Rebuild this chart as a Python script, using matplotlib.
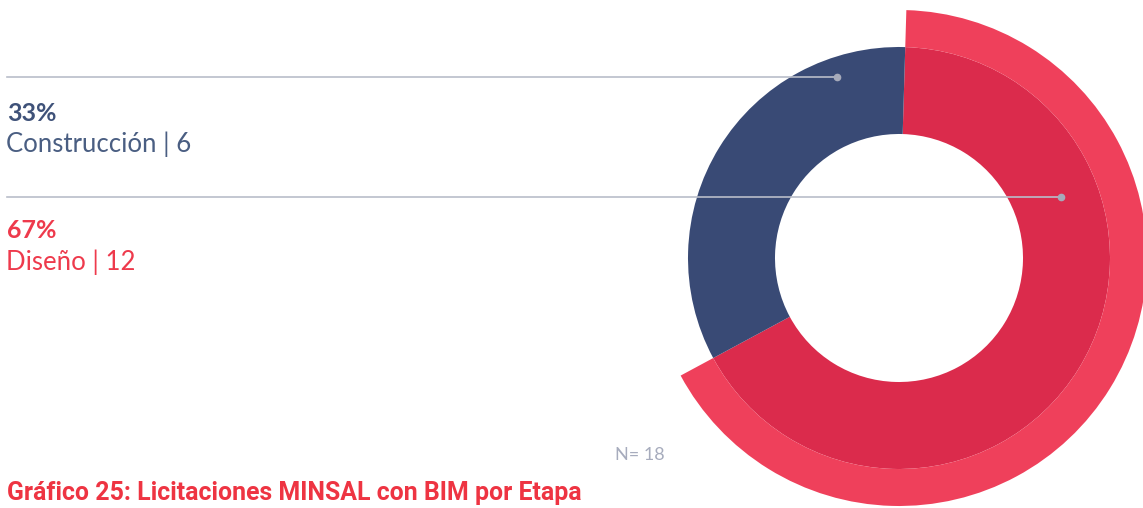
import matplotlib
matplotlib.use("Agg")
import matplotlib.pyplot as plt

# ---- data ----
categories = ["Diseño", "Construcción"]
counts = [12, 6]
percent_labels = ["67%", "33%"]
total_label = "N= 18"
title = "Gráfico 25: Licitaciones MINSAL con BIM por Etapa"

W, H = 1143, 508
DPI = 100
fig = plt.figure(figsize=(W / DPI, H / DPI), dpi=DPI)
fig.patch.set_facecolor("white")

# background axes in pixel coordinates (y downward)
bg = fig.add_axes([0, 0, 1, 1])
bg.set_xlim(0, W)
bg.set_ylim(H, 0)
bg.axis("off")

navy = "#394A75"
red_in = "#DB2B4C"
red_out = "#EF405B"
line_c = "#B9BDC9"
navy_txt = "#3F5279"
red_txt = "#EE3A4C"

# pie axes: centre (899, 258), outer radius 248 px
cx, cy, R = 899, 258, 248
pax = fig.add_axes([(cx - R) / W, (H - cy - R) / H, 2 * R / W, 2 * R / H])
pax.set_zorder(1)
r_mid = 211 / R
r_in = 124 / R
pax.pie(counts, colors=[red_in, navy], radius=r_mid, startangle=88.3,
        counterclock=False, wedgeprops=dict(width=r_mid - r_in, linewidth=0))
pax.pie(counts, colors=[red_out, "none"], radius=1.0, startangle=88.3,
        counterclock=False, wedgeprops=dict(width=1.0 - r_mid, linewidth=0))
pax.set_xlim(-1, 1)
pax.set_ylim(-1, 1)
pax.set_aspect("auto")
pax.axis("off")

# overlay axes for leader lines (above pie)
ov = fig.add_axes([0, 0, 1, 1])
ov.set_zorder(2)
ov.patch.set_alpha(0)
ov.set_xlim(0, W)
ov.set_ylim(H, 0)
ov.axis("off")

ov.plot([7, 837], [77, 77], color=line_c, lw=1.2)
ov.plot([837], [77], "o", color="#A6AABA", ms=4.5)
ov.plot([7, 1061], [197, 197], color=line_c, lw=1.2)
ov.plot([1061], [197], "o", color="#A6AABA", ms=4.5)

fam = ["Lato", "DejaVu Sans"]
bg.text(7, 121, percent_labels[1], color=navy_txt, fontsize=18, fontweight="bold",
        family=fam, va="baseline")
bg.text(6, 152, f"{categories[1]} | {counts[1]}", color="#4A5E82", fontsize=18.5,
        fontweight="normal", family=fam, va="baseline")
bg.text(7, 238, percent_labels[0], color=red_txt, fontsize=18, fontweight="bold",
        family=fam, va="baseline")
bg.text(6, 270, f"{categories[0]} | {counts[0]}", color=red_txt, fontsize=18.5,
        fontweight="normal", family=fam, va="baseline")

bg.text(615, 460, total_label, color="#A7ACBD", fontsize=13, fontweight="normal",
        family=fam, va="baseline")
bg.text(7, 500, title, color="#EE3442", fontsize=17.9, fontweight="bold",
        family=["Roboto", "DejaVu Sans"], va="baseline")

fig.savefig("out.png", dpi=DPI, facecolor="white")
